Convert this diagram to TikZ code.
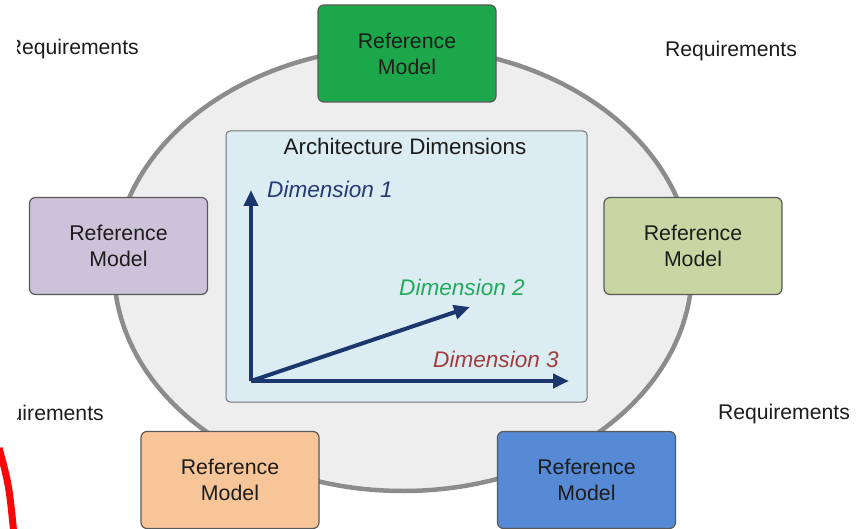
\documentclass[tikz,border=0pt]{standalone}
\usepackage{fontspec}
\setmainfont{Liberation Sans}
\usetikzlibrary{shapes.geometric, arrows.meta, positioning}
\definecolor{ringFill}{RGB}{238,238,238}
\definecolor{ringLine}{RGB}{140,140,140}
\definecolor{dimBox}{RGB}{219,237,243}
\definecolor{greenBox}{RGB}{28,168,74}
\definecolor{purpleBox}{RGB}{204,194,218}
\definecolor{oliveBox}{RGB}{199,214,162}
\definecolor{orangeBox}{RGB}{248,197,153}
\definecolor{blueBox}{RGB}{86,138,212}
\definecolor{axisBlue}{RGB}{27,55,110}
\definecolor{dimOne}{RGB}{38,58,120}
\definecolor{dimTwo}{RGB}{34,170,92}
\definecolor{dimThree}{RGB}{160,62,62}
\definecolor{inkGray}{RGB}{28,28,28}
\definecolor{markRed}{RGB}{250,8,8}

\begin{document}
\begin{tikzpicture}[
    x=1pt, y=-1pt,
    refbox/.style={rectangle, draw=black!65, line width=1.2pt, rounded corners=6pt, minimum width=178pt, minimum height=97pt, align=center, text=inkGray, font=\fontsize{21.3}{26}\selectfont},
    req/.style={font=\fontsize{21.2}{26}\selectfont, text=inkGray, inner sep=0pt},
    dimlabel/.style={font=\fontsize{22.6}{26}\selectfont\itshape, inner sep=0pt},
    axis/.style={draw=axisBlue, line width=4pt, -{Triangle[length=16pt,width=14pt]}},
    >=Latex
]
\useasboundingbox (0,0) rectangle (865,529);
\begin{scope}
\clip (0,0) rectangle (865,529);
% ring
\node[ellipse, draw=ringLine, fill=ringFill, line width=4.5pt, minimum width=578pt, minimum height=444pt] (ring) at (403,269) {};

% dimensions panel
\node[rectangle, draw=black!55, line width=1pt, fill=dimBox, rounded corners=4pt, minimum width=361pt, minimum height=271pt] (panel) at (406.5,266.5) {};
\node[req, font=\fontsize{22.4}{26}\selectfont] (title) at (405,146) {Architecture Dimensions};
\coordinate (o) at (251,381);
\coordinate (d1) at (251,190);
\coordinate (d2) at (470,307);
\coordinate (d3) at (569,381);
\draw[axis] (o) -- (d1);
\draw[axis] (o) -- (d2);
\draw[axis] (o) -- (d3);
\node[dimlabel, text=dimOne] (l1) at (330,189) {Dimension 1};
\node[dimlabel, text=dimTwo] (l2) at (462,287) {Dimension 2};
\node[dimlabel, text=dimThree] (l3) at (496,359) {Dimension 3};

% reference models
\node[refbox, fill=greenBox] (top) at (407,53.5) {Reference\\Model};
\node[refbox, fill=purpleBox] (left) at (118.5,246) {Reference\\Model};
\node[refbox, fill=oliveBox] (right) at (693,246) {Reference\\Model};
\node[refbox, fill=orangeBox] (botl) at (230,480) {Reference\\Model};
\node[refbox, fill=blueBox] (botr) at (586.5,480) {Reference\\Model};

% requirements
\node[req] (reqtr) at (731,51) {Requirements};
\node[req] (reqbr) at (784,414) {Requirements};
\begin{scope}
\clip (17,0) rectangle (200,529);
\node[req, anchor=east] (reqtl) at (139,49) {Requirements};
\node[req, anchor=east] (reqbl) at (104,415) {Requirements};
\end{scope}

% red stroke
\draw[markRed, line width=7pt, line cap=butt] (-1,448) .. controls (9,485) .. (14,535);
\end{scope}
\end{tikzpicture}
\end{document}
